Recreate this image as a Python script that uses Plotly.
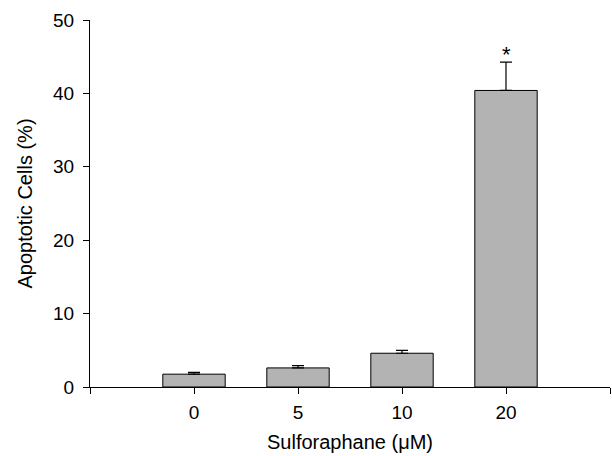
import plotly.graph_objects as go

categories = ["0", "5", "10", "20"]
values = [1.75, 2.6, 4.6, 40.4]
errors = [0.25, 0.3, 0.4, 3.85]
y_ticks = [0, 10, 20, 30, 40, 50]

xpos = list(range(len(categories)))

fig = go.Figure()
fig.add_trace(go.Bar(
    x=xpos, y=values, width=0.6,
    marker=dict(color="#b3b3b3", line=dict(color="black", width=1)),
    error_y=dict(type="data", array=errors, arrayminus=[0]*4, symmetric=False,
                 color="black", thickness=1.2, width=6),
))
fig.add_annotation(x=3, y=errors[3] + values[3], text="*", showarrow=False,
                   yshift=8, font=dict(size=22, color="black", family="Liberation Sans"))

fig.update_layout(
    width=612, height=456,
    margin=dict(l=90, r=2, t=20, b=69),
    plot_bgcolor="white", paper_bgcolor="white",
    showlegend=False,
    font=dict(family="Liberation Sans, Arial, sans-serif", size=19, color="black"),
)
fig.update_xaxes(
    range=[-1, 4], tickvals=[-1] + xpos + [4], ticktext=[""] + categories + [""],
    showline=True, linecolor="black", linewidth=1.3,
    ticks="outside", ticklen=6, tickcolor="black", tickwidth=1.3,
    showgrid=False, zeroline=False, ticklabelstandoff=2,
    title=dict(text="Sulforaphane (μM)", font=dict(size=20), standoff=13),
    tickfont=dict(size=19),
)
fig.update_yaxes(
    range=[0, 50], tickvals=y_ticks,
    showline=True, linecolor="black", linewidth=1.3,
    ticks="outside", ticklen=6, tickcolor="black", tickwidth=1.3,
    showgrid=False, zeroline=False, ticklabelstandoff=5,
    title=dict(text="Apoptotic Cells (%)", font=dict(size=20), standoff=14),
    tickfont=dict(size=19),
)
fig.write_html("out.html")
